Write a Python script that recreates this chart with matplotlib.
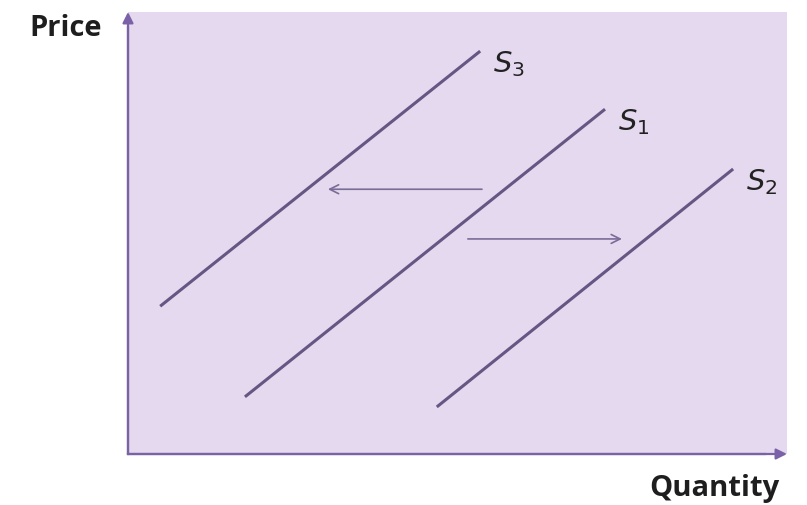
import matplotlib
matplotlib.use("Agg")
import matplotlib.pyplot as plt

# ================= DATA =================
# quantity / price in axis units (0-100)
S3_Q = [4.9, 53.6]
S3_P = [33.6, 91.6]
S1_Q = [17.8, 72.6]
S1_P = [13.0, 78.4]
S2_Q = [47.0, 92.1]
S2_P = [10.7, 64.8]

SHIFT_LEFT_Q = [54.3, 30.0]
SHIFT_LEFT_P = 60.2
SHIFT_RIGHT_Q = [51.3, 75.6]
SHIFT_RIGHT_P = 48.9

LABELS = ["$S_3$", "$S_1$", "$S_2$"]
# ========================================

BG = "#e4d9ee"
LINE_COL = "#655683"
AXIS_COL = "#7b62a8"

plt.rcParams["mathtext.fontset"] = "dejavusans"

fig = plt.figure(figsize=(8.07, 5.06), dpi=100)
W, H = 807, 506
ax = fig.add_axes([128 / W, (H - 455) / H, 659 / W, 442 / H])
ax.set_facecolor(BG)
ax.set_xlim(0, 100.3)
ax.set_ylim(0, 100.5)
for s in ax.spines.values():
    s.set_visible(False)
ax.set_xticks([])
ax.set_yticks([])

# supply curves
for q, p, lab in [(S3_Q, S3_P, LABELS[0]), (S1_Q, S1_P, LABELS[1]), (S2_Q, S2_P, LABELS[2])]:
    ax.plot(q, p, color=LINE_COL, lw=2.2, solid_capstyle="butt")
    ax.text(q[1] + 2.0, p[1] - 2.8, lab, fontsize=21, color="#222222", ha="left", va="center")

# shift arrows
ax.annotate("", xy=(SHIFT_LEFT_Q[1], SHIFT_LEFT_P), xytext=(SHIFT_LEFT_Q[0], SHIFT_LEFT_P),
            arrowprops=dict(arrowstyle="->", color="#7a6c98", lw=1.2, mutation_scale=16))
ax.annotate("", xy=(SHIFT_RIGHT_Q[1], SHIFT_RIGHT_P), xytext=(SHIFT_RIGHT_Q[0], SHIFT_RIGHT_P),
            arrowprops=dict(arrowstyle="->", color="#7a6c98", lw=1.2, mutation_scale=16))

# axes with arrow heads
ax.annotate("", xy=(0, 1.0), xytext=(0, 0), xycoords="axes fraction",
            arrowprops=dict(arrowstyle="-|>", color=AXIS_COL, lw=1.6, mutation_scale=16,
                            shrinkA=0, shrinkB=0), annotation_clip=False)
ax.annotate("", xy=(1.0, 0), xytext=(0, 0), xycoords="axes fraction",
            arrowprops=dict(arrowstyle="-|>", color=AXIS_COL, lw=1.6, mutation_scale=16,
                            shrinkA=0, shrinkB=0), annotation_clip=False)
ax.plot([0, 0], [0, 97], color="#6e6680", lw=1.6, clip_on=False)
ax.plot([0, 97], [0, 0], color="#6e6680", lw=1.6, clip_on=False)

fig.text(66 / W, 1 - 28 / H, "Price", fontsize=21, fontweight="bold", color="#1e1e1e",
         family="Open Sans", ha="center", va="center")
fig.text(714 / W, 1 - 489 / H, "Quantity", fontsize=21, fontweight="bold", color="#1e1e1e",
         family="Open Sans", ha="center", va="center")

fig.savefig("out.png", dpi=100, facecolor="white")
